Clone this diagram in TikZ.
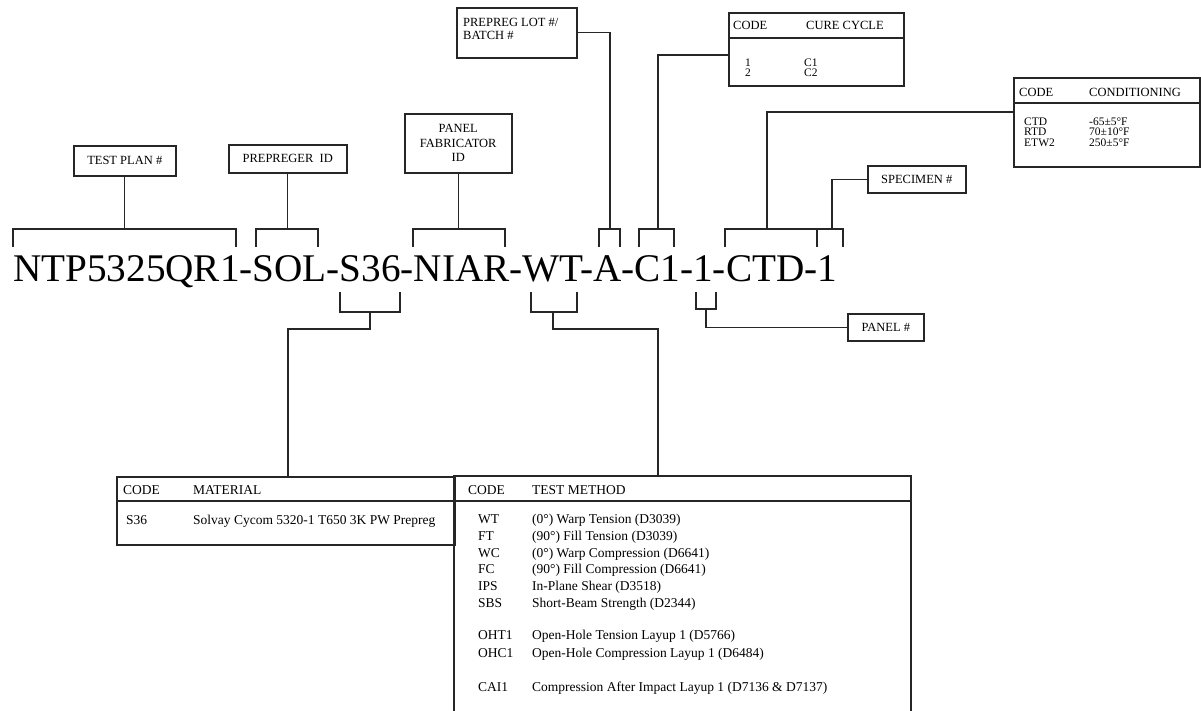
\documentclass[tikz,border=0pt]{standalone}
\usepackage{fontspec}
\setmainfont{Liberation Serif}
\begin{document}
\begin{tikzpicture}[x=1pt,y=-1pt,
  box/.style={draw=black!85, line width=1.5pt, inner sep=0pt, anchor=north west, align=center, font=\fontsize{12.5}{14.5}\selectfont},
  frame/.style={draw=black!85, line width=1.5pt, inner sep=0pt, anchor=north west},
  wire/.style={draw=black!85, line width=1.2pt},
  sm/.style={inner sep=0pt, anchor=base west, font=\fontsize{12.5}{13}\selectfont},
  row/.style={inner sep=0pt, anchor=base west, font=\fontsize{11.5}{12}\selectfont},
  tb/.style={inner sep=0pt, anchor=base west, font=\fontsize{13.5}{14}\selectfont}]
\useasboundingbox (0,0) rectangle (1201,710);

% ---- main code string
\node[inner sep=0pt, anchor=base west, font=\fontsize{39.2}{40}\selectfont] (code) at (13,281) {NTP5325QR1-SOL-S36-NIAR-WT-A-C1-1-CTD-1};

% ---- top label boxes
\node[box, minimum width=102pt, minimum height=30pt] (tp) at (73,145) {TEST PLAN \#};
\node[box, minimum width=118pt, minimum height=28pt] (pg) at (228,144) {PREPREGER\ \ ID};
\node[box, minimum width=107pt, minimum height=59pt] (pf) at (404,113) {PANEL\\FABRICATOR\\ID};
\node[frame, minimum width=120pt, minimum height=50pt] (lot) at (456,7) {};
\node[sm] (lott1) at (463,26.5) {PREPREG LOT \#/};
\node[sm] (lott2) at (463,39.5) {BATCH \#};

% cure cycle table
\node[frame, minimum width=175pt, minimum height=73pt] (cure) at (728,12) {};
\draw[wire, line width=1.3pt] (728,38) -- (903,38);
\node[sm] (c1) at (733,29.5) {CODE};
\node[sm] (c2) at (806,29.5) {CURE CYCLE};
\node[row] (c3) at (745,66) {1};
\node[row] (c4) at (804,66) {C1};
\node[row] (c5) at (745,76.5) {2};
\node[row] (c6) at (804,76.5) {C2};

% conditioning table
\node[frame, minimum width=186pt, minimum height=89pt] (cond) at (1013,77) {};
\draw[wire, line width=1.3pt] (1013,103) -- (1199,103);
\node[sm] (d1) at (1019,96.5) {CODE};
\node[sm] (d2) at (1089,96.5) {CONDITIONING};
\node[row] (d3) at (1024,125) {CTD};
\node[row] (d4) at (1089,125) {-65±5°F};
\node[row] (d5) at (1024,135.5) {RTD};
\node[row] (d6) at (1089,135.5) {70±10°F};
\node[row] (d7) at (1024,146) {ETW2};
\node[row] (d8) at (1089,146) {250±5°F};

\node[box, minimum width=98pt, minimum height=27pt] (spec) at (867,165) {SPECIMEN \#};
\node[box, minimum width=76pt, minimum height=27pt] (pan) at (847,313) {PANEL \#};

% ---- upper brackets
\draw[wire] (13,247) -- (13,229) -- (236,229) -- (236,247);
\draw[wire] (tp.south) -- (tp.south |- 0,229);
\draw[wire] (256,247) -- (256,229) -- (318,229) -- (318,247);
\draw[wire] (pg.south) -- (pg.south |- 0,229);
\draw[wire] (413,247) -- (413,229) -- (505,229) -- (505,247);
\draw[wire] (pf.south) -- (pf.south |- 0,229);
\draw[wire] (599,247) -- (599,229) -- (620,229) -- (620,247);
\draw[wire] (lot.east) -- (lot.east -| 610,0) -- (610,229);
\draw[wire] (639,247) -- (639,229) -- (674,229) -- (674,247);
\draw[wire] (cure.north west |- 0,55) -- (658,55) -- (658,229);
\draw[wire] (725,247) -- (725,229) -- (843,229) -- (843,247);
\draw[wire] (817,229) -- (817,247);
\draw[wire] (cond.north west |- 0,112) -- (767,112) -- (767,229);
\draw[wire] (spec.west) -- (spec.west -| 832,0) -- (832,229);

% ---- lower brackets
\draw[wire] (340,292) -- (340,312) -- (400,312) -- (400,292);
\draw[wire] (531,292) -- (531,312) -- (577,312) -- (577,292);
\draw[wire] (696,292) -- (696,309) -- (716,309) -- (716,292);
\draw[wire] (706,309) -- (pan.west -| 706,0) -- (pan.west);

% ---- material table
\node[frame, minimum width=338pt, minimum height=68pt] (mat) at (116,476) {};
\draw[wire, line width=1.3pt] (116,501) -- (454,501);
\node[tb] (m1) at (123,494.5) {CODE};
\node[tb] (m2) at (193,494.5) {MATERIAL};
\node[tb] (m3) at (126,524) {S36};
\node[tb] (m4) at (193,524) {Solvay Cycom 5320-1 T650 3K PW Prepreg};

% ---- test method table
\draw[draw=black!85, line width=1.5pt] (454,730) -- (454,476) coordinate (tmnw) -- (911,476) coordinate (tmne) -- (911,730);
\draw[wire, line width=1.3pt] (454,501) -- (911,501);
\node[tb] (t0a) at (468,494.5) {CODE};
\node[tb] (t0b) at (532,494.5) {TEST METHOD};
\foreach \c/\d/\y [count=\i] in {WT/(0°) Warp Tension (D3039)/523.5,
  FT/(90°) Fill Tension (D3039)/540.5,
  WC/(0°) Warp Compression (D6641)/557,
  FC/(90°) Fill Compression (D6641)/573.5,
  IPS/In-Plane Shear (D3518)/590.5,
  SBS/Short-Beam Strength (D2344)/607.5,
  OHT1/Open-Hole Tension Layup 1 (D5766)/639.5,
  OHC1/Open-Hole Compression Layup 1 (D6484)/657,
  CAI1/Compression After Impact Layup 1 (D7136 \& D7137)/691.5}{
  \node[tb] (tc\i) at (478,\y) {\c};
  \node[tb] (td\i) at (532,\y) {\d};
}

% connectors to tables
\draw[wire] (370,312) -- (370,329) -- (288,329) -- (mat.north -| 288,0);
\draw[wire] (553,312) -- (553,329) -- (658,329) -- (tmne -| 658,0);
\end{tikzpicture}
\end{document}
